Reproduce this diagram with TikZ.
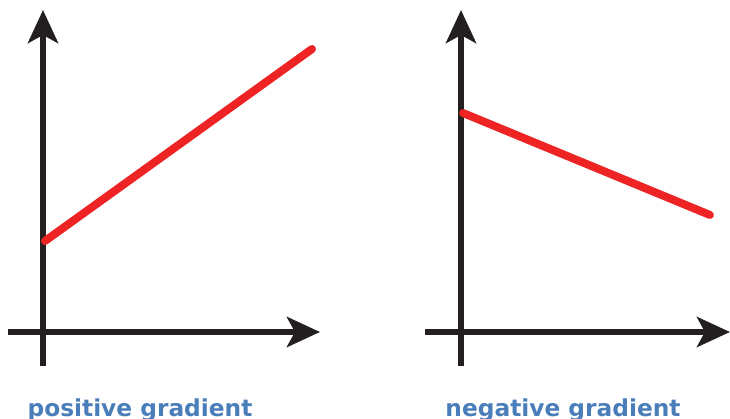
\documentclass[tikz,border=0pt]{standalone}
\usepackage{fontspec}
\newfontfamily\labfont{DejaVu Sans}
\usetikzlibrary{arrows.meta}
\definecolor{axisblack}{HTML}{231F20}
\definecolor{gradred}{HTML}{EE2424}
\definecolor{labblue}{HTML}{4A7EBB}
\tikzset{
  axis/.style={line width=6.5pt, draw=axisblack, -{Stealth[length=33pt,width=30pt,inset=8pt]}},
  gline/.style={line width=8pt, draw=gradred, line cap=round},
  lab/.style={font=\labfont\bfseries\fontsize{23.3}{28}\selectfont, text=labblue, anchor=base, inner sep=0pt}
}
\begin{document}
\begin{tikzpicture}[x=1pt,y=-1pt]
\useasboundingbox (0,0) rectangle (730,419);
% left graph
\coordinate (lyb) at (43,366);
\coordinate (lyt) at (43,10);
\coordinate (lxl) at (8,332);
\coordinate (lxr) at (320,332);
\draw[axis] (lyb) -- (lyt);
\draw[axis] (lxl) -- (lxr);
\coordinate (la) at (45,241);
\coordinate (lb) at (312,49);
\draw[gline] (la) -- (lb);
\node[lab] (lt) at (140,416) {positive gradient};
% right graph
\coordinate (ryb) at (461,366);
\coordinate (ryt) at (461,10);
\coordinate (rxl) at (425,332);
\coordinate (rxr) at (730,332);
\draw[axis] (ryb) -- (ryt);
\draw[axis] (rxl) -- (rxr);
\coordinate (ra) at (463,113);
\coordinate (rb) at (710,215);
\draw[gline] (ra) -- (rb);
\node[lab] (rt) at (563,416) {negative gradient};
\end{tikzpicture}
\end{document}
